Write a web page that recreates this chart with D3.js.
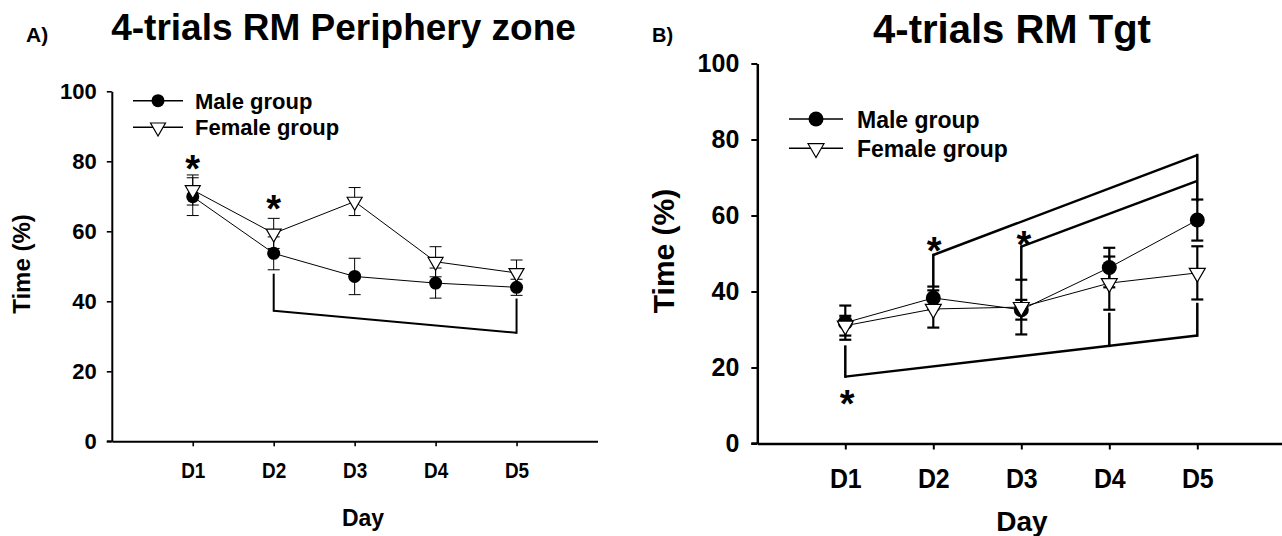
<!DOCTYPE html>
<html>
<head>
<meta charset="utf-8">
<script src="https://cdn.jsdelivr.net/npm/d3@7"></script>
<style>
  body { margin: 0; background: #fff; }
  svg text { font-family: "Liberation Sans", Arial, sans-serif; font-weight: bold; fill: #000; }
</style>
</head>
<body>
<div class="container"></div>
<script>
// ---- data ----
const days = ['D1', 'D2', 'D3', 'D4', 'D5'];
const yTicks = [0, 20, 40, 60, 80, 100];
const seriesNames = ['Male group', 'Female group'];

// A) periphery zone
const periMale      = [69.9, 53.7, 47.1, 45.2, 44.0];
const periMaleErr   = [5.4, 4.7, 5.2, 4.3, 2.3];
const periFemale    = [71.8, 59.4, 68.5, 51.3, 48.1];
const periFemaleErr = [4.3, 4.3, 4.0, 4.3, 3.7];

// B) target quadrant
const tgtMale      = [31.8, 38.3, 35.2, 46.3, 58.8];
const tgtMaleErr   = [4.5, 3.0, 2.6, 5.2, 5.4];
const tgtFemale    = [31.0, 35.4, 35.9, 42.2, 44.9];
const tgtFemaleErr = [2.6, 4.9, 7.2, 7.0, 7.0];

// significance brackets (day index, level at both ends, legs [day, top])
const periBrackets = [
  {from: 2, to: 5, y1: 37.3, y2: 31.0, legs: [[2, 47.6], [5, 40.5]]}
];
const tgtBrackets = [
  {from: 2, to: 5, y1: 49.6, y2: 75.9, legs: [[2, 41.7], [5, 64.0]]},
  {from: 3, to: 5, y1: 51.8, y2: 69.1, legs: [[3, 43.0]]},
  {from: 1, to: 5, y1: 17.6, y2: 28.4, legs: [[1, 25.5], [4, 34.1], [5, 36.7]]}
];
// asterisk centres [day, value]
const periStars = [[1, 80.3], [2, 68.7]];
const tgtStars  = [[2.01, 52.8], [3.03, 54.4], [1.02, 12.5]];

// ---- drawing ----
let svg = d3.select('.container').append('svg')
  .attr('width', 1282)
  .attr('height', 536);

function drawPanel(p) {
  let x = d3.scaleLinear().domain([0, 6]).range([p.x0, p.x1]);
  let y = d3.scaleLinear().domain([0, 100]).range([p.y0, p.y1]);
  let g = svg.append('g');

  // panel letter and title
  g.append('text').attr('x', p.letterX).attr('y', p.letterY)
    .style('font-size', p.letterSize + 'px').text(p.letter);
  g.append('text').attr('x', p.titleX).attr('y', p.titleY)
    .attr('text-anchor', 'middle')
    .style('font-size', p.titleSize + 'px').text(p.title);

  // axes
  let yAxis = d3.axisLeft(y).tickValues(yTicks)
    .tickSize(p.tick).tickSizeOuter(0).tickPadding(p.yPad);
  let xAxis = d3.axisBottom(x).tickValues([1, 2, 3, 4, 5])
    .tickFormat(d => days[d - 1])
    .tickSize(p.tick).tickSizeOuter(0).tickPadding(p.xPad);

  let ya = g.append('g').attr('transform', `translate(${p.x0},0)`).call(yAxis);
  let xa = g.append('g').attr('transform', `translate(0,${p.y0})`).call(xAxis);
  [ya, xa].forEach(a => {
    a.select('.domain').attr('stroke', '#000').attr('stroke-width', p.axisW);
    a.selectAll('.tick line').attr('stroke', '#000').attr('stroke-width', p.axisW * 0.8);
    a.selectAll('text').attr('fill', '#000')
      .style('font-family', '"Liberation Sans", Arial, sans-serif')
      .style('font-weight', 'bold');
  });
  ya.selectAll('text').style('font-size', p.yTickSize + 'px');
  // day labels are set in a condensed face in the original
  xa.selectAll('text').style('font-size', p.xTickSize + 'px')
    .attr('transform', `scale(${p.xTickSqueeze},1)`);
  // x axis line reaches past the y axis like in the original
  g.append('line').attr('x1', p.x0 - p.tick).attr('x2', p.x0)
    .attr('y1', p.y0).attr('y2', p.y0)
    .attr('stroke', '#000').attr('stroke-width', p.axisW);

  // axis titles
  g.append('text')
    .attr('transform', `translate(${p.yLabX},${p.yLabY}) rotate(-90)`)
    .attr('text-anchor', 'middle')
    .style('font-size', p.yLabSize + 'px').text('Time (%)');
  g.append('text').attr('x', p.xLabX).attr('y', p.xLabY)
    .attr('text-anchor', 'middle')
    .style('font-size', p.xLabSize + 'px').text('Day');

  // brackets
  p.brackets.forEach(b => {
    g.append('line')
      .attr('x1', x(b.from)).attr('y1', y(b.y1))
      .attr('x2', x(b.to)).attr('y2', y(b.y2))
      .attr('stroke', '#000').attr('stroke-width', p.bracketW);
    b.legs.forEach(([d, top]) => {
      let base = b.y1 + (b.y2 - b.y1) * (d - b.from) / (b.to - b.from);
      g.append('line')
        .attr('x1', x(d)).attr('x2', x(d))
        .attr('y1', y(base)).attr('y2', y(top))
        .attr('stroke', '#000').attr('stroke-width', p.bracketW)
        .attr('stroke-linecap', 'square');
    });
  });

  let series = [
    {vals: p.male, err: p.maleErr, kind: 'circle'},
    {vals: p.female, err: p.femaleErr, kind: 'tri'}
  ];
  let line = d3.line().x((d, i) => x(i + 1)).y(d => y(d));

  series.forEach(s => {
    g.append('path').datum(s.vals).attr('d', line)
      .attr('fill', 'none').attr('stroke', '#000').attr('stroke-width', 1);
  });

  // error bars
  series.forEach(s => {
    s.vals.forEach((v, i) => {
      let cx = x(i + 1);
      let eb = g.append('g').attr('stroke', '#000').attr('stroke-width', p.errW);
      eb.append('line').attr('x1', cx).attr('x2', cx)
        .attr('y1', y(v - s.err[i])).attr('y2', y(v + s.err[i]));
      [v - s.err[i], v + s.err[i]].forEach(e => {
        eb.append('line').attr('x1', cx - p.cap / 2).attr('x2', cx + p.cap / 2)
          .attr('y1', y(e)).attr('y2', y(e));
      });
    });
  });

  // markers
  let tri = d3.symbol().type(d3.symbolTriangle).size(p.triSize);
  function marker(sel, kind, cx, cy) {
    if (kind === 'circle') {
      sel.append('circle').attr('cx', cx).attr('cy', cy).attr('r', p.r).attr('fill', '#000');
    } else {
      sel.append('path').attr('d', tri())
        .attr('transform', `translate(${cx},${cy}) rotate(180)`)
        .attr('fill', '#fff').attr('stroke', '#000').attr('stroke-width', 1.2);
    }
  }
  series.forEach(s => {
    s.vals.forEach((v, i) => marker(g, s.kind, x(i + 1), y(v)));
  });

  // significance stars
  p.stars.forEach(([d, v]) => {
    g.append('text').attr('x', x(d)).attr('y', y(v) + p.starSize * 0.56)
      .attr('text-anchor', 'middle')
      .style('font-size', p.starSize + 'px').text('*');
  });

  // legend
  seriesNames.forEach((name, i) => {
    let ly = p.legY[i];
    g.append('line').attr('x1', p.legX0).attr('x2', p.legX1)
      .attr('y1', ly).attr('y2', ly)
      .attr('stroke', '#000').attr('stroke-width', 1.4);
    marker(g, series[i].kind, (p.legX0 + p.legX1) / 2, ly);
    g.append('text').attr('x', p.legTextX).attr('y', p.legBase[i])
      .style('font-size', p.legSize + 'px').text(name);
  });
}

drawPanel({
  letter: 'A)', letterX: 26, letterY: 42, letterSize: 21,
  title: '4-trials RM Periphery zone', titleX: 343.5, titleY: 40, titleSize: 37,
  x0: 111.8, x1: 597.5, y0: 441.3, y1: 91.3,
  tick: 5, yPad: 10, xPad: 16, axisW: 2,
  yTickSize: 22, xTickSize: 22, xTickSqueeze: 0.86,
  yLabX: 30, yLabY: 264, yLabSize: 24,
  xLabX: 363, xLabY: 526, xLabSize: 23,
  brackets: periBrackets, bracketW: 2,
  male: periMale, maleErr: periMaleErr, female: periFemale, femaleErr: periFemaleErr,
  errW: 1, cap: 12, r: 6.5, triSize: 97,
  stars: periStars, starSize: 38,
  legX0: 133, legX1: 183, legY: [100.7, 127.3], legTextX: 195, legBase: [108.5, 135], legSize: 22
});

drawPanel({
  letter: 'B)', letterX: 652, letterY: 42, letterSize: 20,
  title: '4-trials RM Tgt', titleX: 1012, titleY: 43.3, titleSize: 40,
  x0: 757.3, x1: 1285.3, y0: 443.5, y1: 63.5,
  tick: 6, yPad: 12, xPad: 19, axisW: 2.5,
  yTickSize: 25, xTickSize: 28, xTickSqueeze: 0.89,
  yLabX: 674, yLabY: 251, yLabSize: 30,
  xLabX: 1022, xLabY: 531, xLabSize: 28,
  brackets: tgtBrackets, bracketW: 2.5,
  male: tgtMale, maleErr: tgtMaleErr, female: tgtFemale, femaleErr: tgtFemaleErr,
  errW: 2.2, cap: 12, r: 7.5, triSize: 110,
  stars: tgtStars, starSize: 38,
  legX0: 789, legX1: 843, legY: [119, 148.3], legTextX: 857, legBase: [128, 157], legSize: 23
});
</script>
</body>
</html>
